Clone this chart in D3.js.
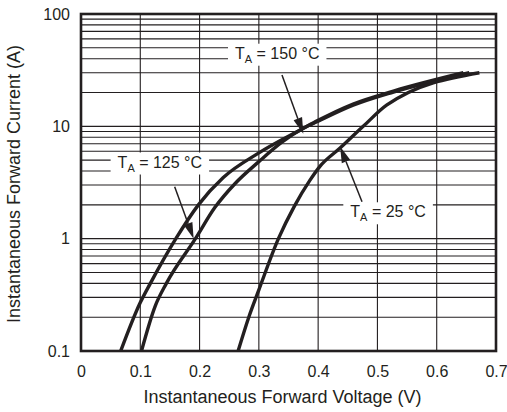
<!DOCTYPE html>
<html>
<head>
<meta charset="utf-8">
<script src="https://cdn.jsdelivr.net/npm/d3@7"></script>
<style>
  body { margin: 0; background: #fff; }
  text { font-family: "Liberation Sans", Arial, sans-serif; fill: #231f20; }
</style>
</head>
<body>
<div class="draw-chart"></div>
<script>
// forward voltage (V) / forward current (A)
const v150 = [0.067, 0.100, 0.117, 0.160, 0.198, 0.240, 0.300, 0.375, 0.400, 0.459, 0.527, 0.645];
const i150 = [0.1, 0.27, 0.4, 1.0, 2.0, 3.5, 5.8, 9.6, 11.3, 15.8, 20.6, 30];
const v125 = [0.102, 0.125, 0.144, 0.193, 0.226, 0.260, 0.300, 0.340, 0.375, 0.400, 0.459, 0.527, 0.655];
const i125 = [0.1, 0.25, 0.4, 1.0, 1.9, 3.1, 4.85, 7.3, 9.6, 11.1, 15.4, 20.2, 30];
const v25 = [0.265, 0.283, 0.300, 0.333, 0.360, 0.386, 0.403, 0.437, 0.476, 0.516, 0.672];
const i25 = [0.1, 0.2, 0.35, 1.0, 1.95, 3.3, 4.4, 6.4, 10, 15.5, 30];

const xTicks = [0, 0.1, 0.2, 0.3, 0.4, 0.5, 0.6, 0.7];
const yTicks = [0.1, 1, 10, 100];

// annotation text and arrow (tail -> tip) in data units
const labels = [
  { name: "150", v: 0.331, i: 40, tail: [0.339, 28.6], tip: [0.375, 8.6] },
  { name: "125", v: 0.133, i: 4.3, tail: [0.158, 2.9], tip: [0.190, 1.0] },
  { name: "25", v: 0.518, i: 1.55, tail: [0.474, 2.13], tip: [0.437, 6.6] },
];

const margin = { top: 14, right: 11, bottom: 61, left: 81 };
const W = 507, H = 412;
const width = W - margin.left - margin.right;
const height = H - margin.top - margin.bottom;
const ink = "#231f20";

const svg = d3
  .select(".draw-chart")
  .append("svg")
  .attr("width", W)
  .attr("height", H);
const g = svg
  .append("g")
  .attr("transform", "translate(" + margin.left + "," + margin.top + ")");

const x = d3.scaleLinear().domain([0, 0.7]).range([0, width]);
const y = d3.scaleLog().domain([0.1, 100]).range([height, 0]);

// grid
const minor = [];
[0.1, 1, 10].forEach((d) => {
  for (let k = 2; k <= 9; k++) minor.push(d * k);
});
g.selectAll(".hgrid")
  .data(minor.concat([1, 10]))
  .join("line")
  .attr("x1", 0)
  .attr("x2", width)
  .attr("y1", (d) => y(d))
  .attr("y2", (d) => y(d))
  .attr("stroke", ink)
  .attr("stroke-width", 1.1);
g.selectAll(".vgrid")
  .data(xTicks.slice(1, -1))
  .join("line")
  .attr("x1", (d) => x(d))
  .attr("x2", (d) => x(d))
  .attr("y1", 0)
  .attr("y2", height)
  .attr("stroke", ink)
  .attr("stroke-width", 1.1);

// tick labels
g.append("g")
  .attr("transform", "translate(0," + height + ")")
  .call(d3.axisBottom(x).tickValues(xTicks).tickSize(0).tickPadding(15).tickFormat((d) => (d === 0 ? "0" : d3.format(".1f")(d))))
  .call((a) => a.select(".domain").remove())
  .selectAll("text")
  .attr("font-size", 16)
  .attr("fill", ink);
g.append("g")
  .call(d3.axisLeft(y).tickValues(yTicks).tickSize(0).tickPadding(11).tickFormat((d) => String(d)))
  .call((a) => a.select(".domain").remove())
  .selectAll("text")
  .attr("font-size", 16)
  .attr("fill", ink);

// curves
const line = d3
  .line()
  .x((d) => x(d[0]))
  .y((d) => y(d[1]))
  .curve(d3.curveMonotoneX);
[
  [v150, i150],
  [v125, i125],
  [v25, i25],
].forEach(([vs, is]) => {
  g.append("path")
    .datum(vs.map((v, k) => [v, is[k]]))
    .attr("fill", "none")
    .attr("stroke", ink)
    .attr("stroke-width", 3.4)
    .attr("stroke-linejoin", "round")
    .attr("d", line);
});

// frame
g.append("rect")
  .attr("width", width)
  .attr("height", height)
  .attr("fill", "none")
  .attr("stroke", ink)
  .attr("stroke-width", 2.6);

// annotations
labels.forEach((l) => {
  const lab = g.append("g");
  const box = lab.append("rect").attr("fill", "#fff");
  const t = lab
    .append("text")
    .attr("x", x(l.v))
    .attr("y", y(l.i))
    .attr("text-anchor", "middle")
    .attr("font-size", 16);
  t.append("tspan").text("T");
  t.append("tspan").attr("font-size", 11).attr("dy", 4).text("A");
  t.append("tspan").attr("dy", -4).text(" = " + l.name + " °C");
  const bb = t.node().getBBox();
  box
    .attr("x", bb.x - 7)
    .attr("y", bb.y - 1)
    .attr("width", bb.width + 14)
    .attr("height", bb.height + 2);

  const x0 = x(l.tail[0]), y0 = y(l.tail[1]);
  const x1 = x(l.tip[0]), y1 = y(l.tip[1]);
  const ang = Math.atan2(y1 - y0, x1 - x0);
  const hl = 16, hw = 4.5;
  const bx = x1 - hl * Math.cos(ang), by = y1 - hl * Math.sin(ang);
  g.append("line")
    .attr("x1", x0)
    .attr("y1", y0)
    .attr("x2", bx)
    .attr("y2", by)
    .attr("stroke", ink)
    .attr("stroke-width", 1.5);
  g.append("path")
    .attr("fill", ink)
    .attr(
      "d",
      "M" + x1 + "," + y1 +
        "L" + (bx + hw * Math.sin(ang)) + "," + (by - hw * Math.cos(ang)) +
        "L" + (bx - hw * Math.sin(ang)) + "," + (by + hw * Math.cos(ang)) + "Z"
    );
});

// axis titles
svg.append("text")
  .attr("x", margin.left + width / 2 - 6)
  .attr("y", 403)
  .attr("text-anchor", "middle")
  .attr("font-size", 18)
  .text("Instantaneous Forward Voltage (V)");
svg.append("text")
  .attr("transform", "translate(20," + 184 + ") rotate(-90)")
  .attr("text-anchor", "middle")
  .attr("font-size", 18)
  .text("Instantaneous Forward Current (A)");
</script>
</body>
</html>
